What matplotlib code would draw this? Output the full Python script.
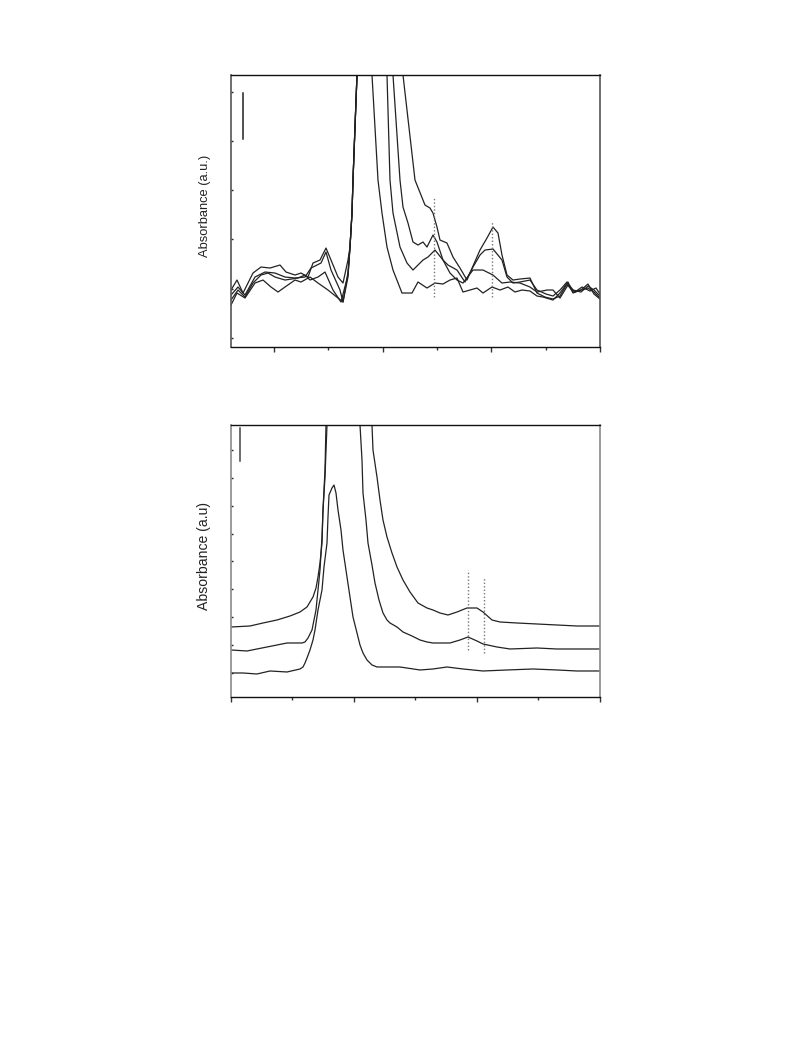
"""Two stacked absorbance spectra panels (no tick labels), redrawn from a figure."""

import matplotlib
matplotlib.use("Agg")
import matplotlib.pyplot as plt

plt.rcParams["font.family"] = ["Liberation Sans", "DejaVu Sans"]

# ---- top panel: four noisy spectra (arbitrary units) ----
top_a_x = [0, 6, 14, 24, 32, 40, 47, 54, 64, 70, 79, 87, 97, 107, 112, 117,
           119, 121, 122, 124, 126, 128, 131, 138, 141, 147, 151, 156, 162, 171,
           181, 187, 196, 204, 212, 219, 226, 232, 246, 252, 261, 269, 277, 284,
           291, 299, 306, 312, 322, 329, 337, 342, 350, 357, 363, 369]
top_a_y = [42, 54, 49, 64, 67, 60, 55, 60, 67, 65, 70, 64, 57, 49, 45, 70,
           100, 134, 167, 220, 272, 330, 420, 340, 272, 167, 134, 100, 77, 54,
           54, 65, 59, 64, 63, 67, 69, 55, 59, 54, 60, 57, 60, 55,
           57, 56, 51, 50, 47, 54, 65, 54, 57, 59, 55, 49]

top_b_x = [0, 7, 14, 22, 30, 37, 44, 54, 67, 74, 79, 87, 94, 102, 110, 117,
           119, 121, 122, 124, 126, 128, 132, 150, 156, 159, 162, 169, 176, 182,
           187, 192, 197, 202, 204, 212, 219, 226, 232, 242, 252, 262, 271, 279,
           289, 299, 306, 316, 322, 329, 337, 344, 351, 359, 365, 369]
top_b_y = [47, 57, 50, 64, 72, 74, 70, 67, 69, 72, 67, 70, 75, 57, 45, 72,
           100, 134, 167, 220, 272, 330, 430, 340, 272, 167, 134, 100, 84, 77,
           82, 87, 90, 95, 97, 87, 74, 67, 64, 77, 77, 72, 64, 65,
           64, 60, 55, 57, 57, 49, 62, 55, 60, 56, 59, 53]

top_c_x = [0, 7, 14, 24, 34, 44, 54, 64, 74, 80, 90, 95, 100, 109, 112, 117,
           119, 121, 122, 124, 126, 128, 133, 156, 162, 169, 172, 177, 182, 187,
           192, 196, 202, 206, 212, 217, 226, 234, 242, 249, 254, 262, 271, 276,
           282, 289, 299, 306, 315, 322, 329, 336, 342, 350, 357, 363, 369]
top_c_y = [52, 60, 52, 70, 75, 74, 70, 69, 70, 79, 84, 95, 77, 57, 45, 75,
           100, 134, 167, 220, 272, 330, 440, 340, 272, 167, 140, 124, 105, 102,
           105, 100, 112, 105, 87, 82, 77, 65, 80, 92, 97, 98, 87, 70,
           64, 65, 67, 57, 53, 51, 57, 65, 57, 55, 61, 57, 51]

top_d_x = [0, 6, 12, 22, 30, 39, 49, 55, 64, 70, 77, 82, 89, 95, 100, 107, 112, 117,
           119, 121, 122, 124, 126, 128, 134, 166, 172, 184, 194, 199, 202, 206,
           209, 216, 222, 229, 236, 242, 249, 256, 262, 267, 271, 276, 282, 289,
           299, 306, 314, 322, 329, 336, 342, 350, 357, 363, 369]
top_d_y = [57, 67, 54, 74, 80, 79, 82, 75, 72, 74, 70, 84, 87, 99, 87, 70, 64, 87,
           100, 134, 167, 220, 272, 330, 450, 340, 272, 167, 142, 139, 134, 120,
           107, 104, 90, 79, 67, 81, 97, 109, 120, 114, 92, 72, 67, 68,
           69, 54, 50, 48, 51, 63, 55, 57, 63, 53, 48]

top_dotted_x = [203, 261]
top_dotted_y0 = [50, 50]
top_dotted_y1 = [149, 125]
top_bar = (12, 208, 254)          # x, y from, y to

# ---- bottom panel: three smooth spectra ----
bot_l_x = [0, 12, 26, 39, 56, 69, 72, 74, 76, 79, 82, 84, 87, 91, 93, 96, 97, 98,
           101, 103, 105, 107, 110, 112, 116, 119, 122, 126, 129, 132, 136, 141,
           146, 152, 169, 189, 202, 216, 232, 252, 276, 302, 326, 346, 369]
bot_l_y = [24, 24, 23, 26, 25, 28, 30, 34, 39, 47, 57, 67, 87, 107, 130, 154, 180, 202,
           209, 212, 204, 187, 167, 147, 120, 100, 80, 64, 52, 44, 37, 32,
           30, 30, 30, 27, 28, 30, 28, 26, 27, 28, 27, 26, 26]

bot_m_x = [0, 16, 36, 56, 71, 74, 77, 81, 83, 85, 87, 89, 91, 92, 94, 95, 112,
           129, 131, 132, 135, 137, 141, 144, 148, 152, 156, 159, 166, 172, 181,
           189, 196, 202, 219, 229, 237, 246, 252, 266, 279, 306, 326, 346, 369]
bot_m_y = [47, 46, 50, 54, 54, 55, 59, 67, 77, 87, 107, 127, 160, 187, 227, 272, 420,
           272, 237, 204, 177, 154, 132, 114, 97, 84, 77, 74, 70, 65, 61,
           57, 55, 54, 54, 57, 60, 56, 53, 50, 48, 49, 48, 48, 48]

bot_u_x = [0, 19, 32, 46, 59, 69, 76, 79, 82, 85, 87, 89, 91, 92, 94, 96, 118,
           141, 142, 146, 149, 152, 156, 161, 166, 172, 179, 187, 196, 202, 209,
           217, 226, 236, 246, 252, 261, 269, 286, 306, 326, 346, 369]
bot_u_y = [70, 71, 74, 77, 81, 85, 90, 95, 100, 109, 120, 134, 154, 187, 220, 272, 440,
           272, 247, 220, 197, 177, 160, 144, 130, 117, 105, 94, 89, 87, 84,
           82, 85, 89, 89, 85, 77, 75, 74, 73, 72, 71, 71]

bot_dotted_x = [237, 253]
bot_dotted_y0 = [47, 44]
bot_dotted_y1 = [127, 119]
bot_bar = (9, 236, 269)

LINE = "#222222"


def _style(ax, xticks, yticks, side_color, top_color="#111111"):
    ax.set_xlim(0, 369)
    ax.set_ylim(0, 272)
    for s in ("top", "bottom"):
        ax.spines[s].set_color(top_color)
        ax.spines[s].set_linewidth(1.0)
    for s in ("left", "right"):
        ax.spines[s].set_color(side_color)
        ax.spines[s].set_linewidth(1.2)
    # every other tick is a longer major one
    ax.set_xticks(xticks[::2])
    ax.set_xticks(xticks[1::2], minor=True)
    ax.set_yticks(yticks)
    ax.set_xticklabels([])
    ax.set_yticklabels([])
    ax.tick_params(axis="x", which="major", direction="out", length=3.6,
                   width=1.0, color="#333333", top=False)
    ax.tick_params(axis="x", which="minor", direction="out", length=2.2,
                   width=1.0, color="#333333", top=False)
    ax.tick_params(axis="y", direction="in", length=1.5, width=1.0,
                   color="#222222", right=False)


def main():
    fig = plt.figure(figsize=(7.93, 10.57), dpi=100)

    ax1 = fig.add_axes([0.2913, 0.6717, 0.4653, 0.2573])
    for xs, ys in ((top_a_x, top_a_y), (top_b_x, top_b_y),
                   (top_c_x, top_c_y), (top_d_x, top_d_y)):
        ax1.plot(xs, ys, color=LINE, lw=0.9)
    for x, y0, y1 in zip(top_dotted_x, top_dotted_y0, top_dotted_y1):
        ax1.plot([x, x], [y0, y1], color="#777777", lw=1.0, ls=(0, (1, 1.5)))
    ax1.plot([top_bar[0]] * 2, top_bar[1:], color=LINE, lw=1.1)
    xt1 = [43 + 54.33 * k for k in range(7)]
    yt1 = [9 + 49.3 * k for k in range(6)]
    _style(ax1, xt1, yt1, side_color="#555555")
    ax1.set_ylabel("Absorbance (a.u.)", fontsize=9.3, color="#222222")
    ax1.yaxis.set_label_coords(-0.054, 0.52)

    ax2 = fig.add_axes([0.2913, 0.3406, 0.4653, 0.2573])
    for xs, ys in ((bot_l_x, bot_l_y), (bot_m_x, bot_m_y), (bot_u_x, bot_u_y)):
        ax2.plot(xs, ys, color=LINE, lw=0.9)
    for x, y0, y1 in zip(bot_dotted_x, bot_dotted_y0, bot_dotted_y1):
        ax2.plot([x, x], [y0, y1], color="#777777", lw=1.0, ls=(0, (1, 1.5)))
    ax2.plot([bot_bar[0]] * 2, bot_bar[1:], color="#444444", lw=1.1)
    xt2 = [61.5 * k for k in range(7)]
    yt2 = [24 + 27.9 * k for k in range(9)]
    _style(ax2, xt2, yt2, side_color="#8a8a8a")
    ax2.set_ylabel("Absorbance (a.u)", fontsize=10.1, color="#222222")
    ax2.yaxis.set_label_coords(-0.054, 0.52)

    fig.savefig("out.png", dpi=100)


if __name__ == "__main__":
    main()
